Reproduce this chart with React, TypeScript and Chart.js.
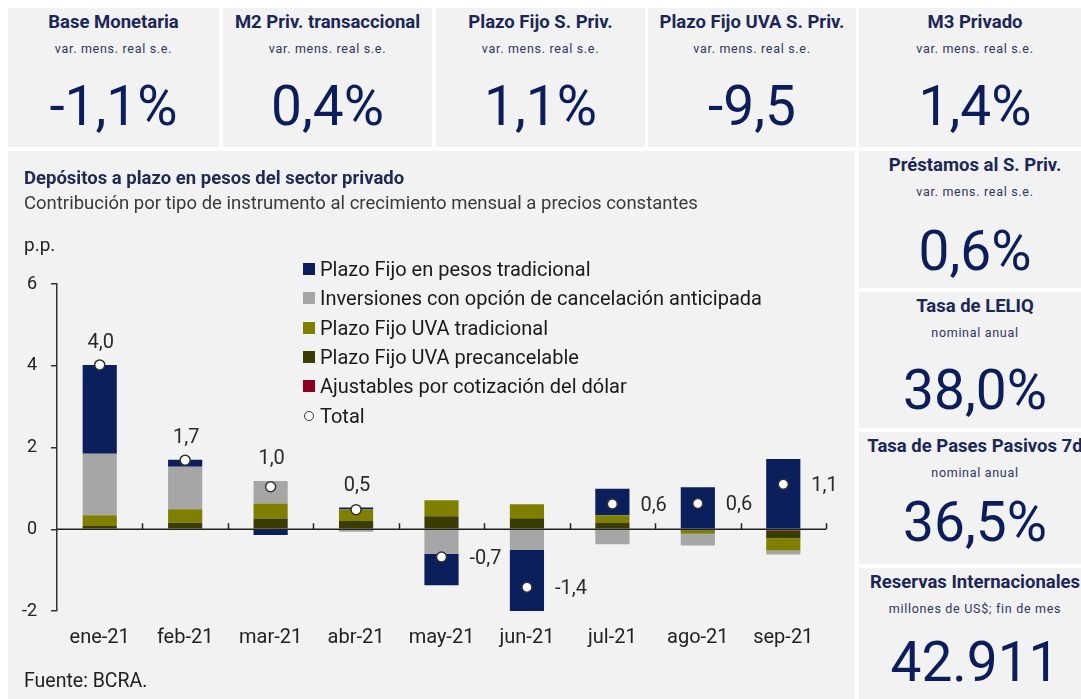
import React, { useEffect, useRef } from "react";
import { Chart, registerables } from "chart.js";

Chart.register(...registerables);

const categories = ["ene-21", "feb-21", "mar-21", "abr-21", "may-21", "jun-21", "jul-21", "ago-21", "sep-21"];
const plazoFijoTradicional = [2.17, 0.17, -0.14, 0.04, -0.77, -1.49, 0.65, 1.03, 1.72];
const inversionesCancelacion = [1.51, 1.04, 0.55, -0.06, -0.58, -0.51, -0.37, -0.29, -0.1];
const uvaTradicional = [0.26, 0.33, 0.37, 0.29, 0.39, 0.34, 0.19, -0.08, -0.3];
const uvaPrecancelable = [0.08, 0.16, 0.26, 0.2, 0.32, 0.27, 0.15, -0.01, -0.19];
const ajustablesDolar = [0, 0, 0, 0, -0.02, 0, 0, -0.02, -0.03];
const totalValues = [4.02, 1.69, 1.04, 0.48, -0.68, -1.42, 0.62, 0.63, 1.1];
const yTicks = [-2, 0, 2, 4, 6];

const topKpis = [
  { title: "Base Monetaria", sub: "var. mens. real s.e.", value: "-1,1%" },
  { title: "M2 Priv. transaccional", sub: "var. mens. real s.e.", value: "0,4%" },
  { title: "Plazo Fijo S. Priv.", sub: "var. mens. real s.e.", value: "1,1%" },
  { title: "Plazo Fijo UVA S. Priv.", sub: "var. mens. real s.e.", value: "-9,5" },
  { title: "M3 Privado", sub: "var. mens. real s.e.", value: "1,4%" },
];
const sideKpis = [
  { title: "Préstamos al S. Priv.", sub: "var. mens. real s.e.", value: "0,6%" },
  { title: "Tasa de LELIQ", sub: "nominal anual", value: "38,0%" },
  { title: "Tasa de Pases Pasivos 7d", sub: "nominal anual", value: "36,5%" },
  { title: "Reservas Internacionales", sub: "millones de US$; fin de mes", value: "42.911" },
];

const NAVY = "#0a1f5c";
const GRAY = "#a6a6a6";
const OLIVE = "#7f7f00";
const DARKOLIVE = "#3b3c00";
const RED = "#8c0021";
const PANEL = "#f2f2f2";
const FONT = "Roboto, 'Noto Sans', sans-serif";

const legendItems = [
  { label: "Plazo Fijo en pesos tradicional", color: NAVY },
  { label: "Inversiones con opción de cancelación anticipada", color: GRAY },
  { label: "Plazo Fijo UVA tradicional", color: OLIVE },
  { label: "Plazo Fijo UVA precancelable", color: DARKOLIVE },
  { label: "Ajustables por cotización del dólar", color: RED },
  { label: "Total", color: null },
];

const topBoxes = [
  { x: 8, w: 211 },
  { x: 223, w: 209 },
  { x: 436, w: 209 },
  { x: 648, w: 208 },
  { x: 859, w: 232 },
];
const sideBoxes = [
  { y: 151, h: 137, num: 100 },
  { y: 292, h: 136, num: 98 },
  { y: 432, h: 132, num: 90 },
  { y: 568, h: 140, num: 94 },
];

function Kpi({ x, y, w, h, num, title, sub, value }: any) {
  return (
    <div style={{ position: "absolute", left: x, top: y, width: w, height: h, background: PANEL, fontFamily: FONT, overflow: "hidden" }}>
      <div style={{ position: "absolute", left: -20, width: w + 40, top: 14, transform: "translateY(-50%)", textAlign: "center", fontWeight: 700, fontSize: 18.5, color: "#1b2857", whiteSpace: "nowrap" }}>{title}</div>
      <div style={{ position: "absolute", left: -20, width: w + 40, top: 40, transform: "translateY(-50%)", textAlign: "center", fontSize: 12.5, letterSpacing: 0.7, color: "#2c365e", whiteSpace: "nowrap" }}>{sub}</div>
      <div style={{ position: "absolute", left: -20, width: w + 40, top: num, transform: "translateY(-50%)", textAlign: "center", fontSize: 55, color: "#0b1e5b", whiteSpace: "nowrap", lineHeight: 1 }}>{value}</div>
    </div>
  );
}

const labelPlugin = {
  id: "totLabels",
  afterDatasetsDraw(chart: any) {
    const ctx = chart.ctx;
    const meta = chart.getDatasetMeta(0);
    const yScale = chart.scales.y;
    const barSets = [ajustablesDolar, uvaPrecancelable, uvaTradicional, inversionesCancelacion, plazoFijoTradicional];
    ctx.save();
    ctx.font = `20px ${FONT}`;
    ctx.fillStyle = "#2a2a2a";
    ctx.textBaseline = "middle";
    meta.data.forEach((pt: any, i: number) => {
      const txt = totalValues[i].toFixed(1).replace(".", ",");
      if (i < 4) {
        const posTop = barSets.reduce((s, arr) => s + Math.max(0, arr[i]), 0);
        ctx.textAlign = "center";
        ctx.fillText(txt, pt.x + 1, yScale.getPixelForValue(posTop) - 22);
      } else {
        ctx.textAlign = "left";
        ctx.fillText(txt, pt.x + 28, pt.y + 2);
      }
    });
    ctx.restore();
  },
};

const zeroLinePlugin = {
  id: "zeroLine",
  beforeDatasetsDraw(chart: any) {
    const { ctx, chartArea, scales } = chart;
    const y0 = scales.y.getPixelForValue(0);
    const n = categories.length;
    const step = (chartArea.right - chartArea.left) / n;
    ctx.save();
    ctx.strokeStyle = "#222";
    ctx.lineWidth = 1.5;
    ctx.beginPath();
    ctx.moveTo(chartArea.left, y0);
    ctx.lineTo(chartArea.right, y0);
    for (let k = 1; k <= n; k++) {
      const x = Math.round(chartArea.left + k * step) + 0.5;
      ctx.moveTo(x, y0);
      ctx.lineTo(x, y0 - 6);
    }
    ctx.stroke();
    ctx.restore();
  },
};

function DepositChart() {
  const ref = useRef<HTMLCanvasElement>(null);
  useEffect(() => {
    const barCommon = { type: "bar" as const, borderWidth: 0, barPercentage: 0.4, categoryPercentage: 1, order: 1, stack: "s" };
    const chart = new Chart(ref.current!, {
      type: "bar",
      data: {
        labels: categories,
        datasets: [
          {
            type: "line",
            label: "Total",
            data: totalValues,
            showLine: false,
            pointRadius: 5,
            pointHoverRadius: 5,
            pointBackgroundColor: "#ffffff",
            pointBorderColor: "#333333",
            pointBorderWidth: 1.5,
            order: 0,
            stack: "total",
          } as any,
          { ...barCommon, label: "Ajustables por cotización del dólar", data: ajustablesDolar, backgroundColor: RED },
          { ...barCommon, label: "Plazo Fijo UVA precancelable", data: uvaPrecancelable, backgroundColor: DARKOLIVE },
          { ...barCommon, label: "Plazo Fijo UVA tradicional", data: uvaTradicional, backgroundColor: OLIVE },
          { ...barCommon, label: "Inversiones con opción de cancelación anticipada", data: inversionesCancelacion, backgroundColor: GRAY },
          { ...barCommon, label: "Plazo Fijo en pesos tradicional", data: plazoFijoTradicional, backgroundColor: NAVY },
        ],
      },
      options: {
        animation: false,
        responsive: false,
        maintainAspectRatio: false,
        layout: { padding: { left: 9, top: 133, right: 29, bottom: 48 } },
        plugins: { legend: { display: false }, tooltip: { enabled: false } },
        scales: {
          x: {
            stacked: true,
            grid: { display: false, drawTicks: false },
            border: { display: false },
            ticks: { color: "#222", font: { family: FONT, size: 20 }, padding: 15 },
            afterFit: (s: any) => { s.height = 40; },
          },
          y: {
            stacked: true,
            min: -2,
            max: 6,
            afterBuildTicks: (s: any) => { s.ticks = yTicks.map((v) => ({ value: v })); },
            ticks: { color: "#222", font: { family: FONT, size: 18 }, padding: 14 },
            grid: { drawOnChartArea: false, drawTicks: true, tickLength: 6, color: "#333", lineWidth: 1.5 },
            border: { display: true, color: "#333", width: 1.5 },
            afterFit: (s: any) => { s.width = 40; },
          },
        },
      } as any,
      plugins: [zeroLinePlugin, labelPlugin],
    });
    return () => chart.destroy();
  }, []);
  return <canvas ref={ref} width={847} height={548} style={{ position: "absolute", left: 0, top: 0, width: 847, height: 548 }} />;
}

export default function App() {
  return (
    <div style={{ position: "fixed", left: 0, top: 0, width: 1081, height: 699, overflow: "hidden", background: "#fff", fontFamily: FONT }}>
      {topKpis.map((k, i) => (
        <Kpi key={i} x={topBoxes[i].x} y={8} w={topBoxes[i].w} h={139} num={98} {...k} />
      ))}
      {sideKpis.map((k, i) => (
        <Kpi key={"s" + i} x={859} y={sideBoxes[i].y} w={232} h={sideBoxes[i].h} num={sideBoxes[i].num} {...k} />
      ))}
      <div style={{ position: "absolute", left: 8, top: 151, width: 847, height: 548, background: PANEL }}>
        <DepositChart />
        <div style={{ position: "absolute", left: 16, top: 27, transform: "translateY(-50%)", fontWeight: 700, fontSize: 18.5, color: "#1f2a52", whiteSpace: "nowrap" }}>
          Depósitos a plazo en pesos del sector privado
        </div>
        <div style={{ position: "absolute", left: 16, top: 52, transform: "translateY(-50%)", fontSize: 18.5, color: "#3a3a3a", whiteSpace: "nowrap" }}>
          Contribución por tipo de instrumento al crecimiento mensual a precios constantes
        </div>
        <div style={{ position: "absolute", left: 16, top: 93, transform: "translateY(-50%)", fontSize: 19, color: "#222", whiteSpace: "nowrap" }}>p.p.</div>
        <div style={{ position: "absolute", left: 16, top: 529, transform: "translateY(-50%)", fontSize: 19.5, color: "#222", whiteSpace: "nowrap" }}>Fuente: BCRA.</div>
        {legendItems.map((it, i) => (
          <div key={i} style={{ position: "absolute", left: 295, top: 118 + i * 29.3, transform: "translateY(-50%)", display: "flex", alignItems: "center", whiteSpace: "nowrap", fontSize: 20, color: "#1a1a1a" }}>
            {it.color ? (
              <span style={{ display: "inline-block", width: 12, height: 12, background: it.color, marginRight: 5 }} />
            ) : (
              <span style={{ display: "inline-block", width: 8, height: 8, borderRadius: "50%", border: "1.5px solid #333", background: "#fff", marginRight: 6, marginLeft: 1 }} />
            )}
            {it.label}
          </div>
        ))}
      </div>
    </div>
  );
}
